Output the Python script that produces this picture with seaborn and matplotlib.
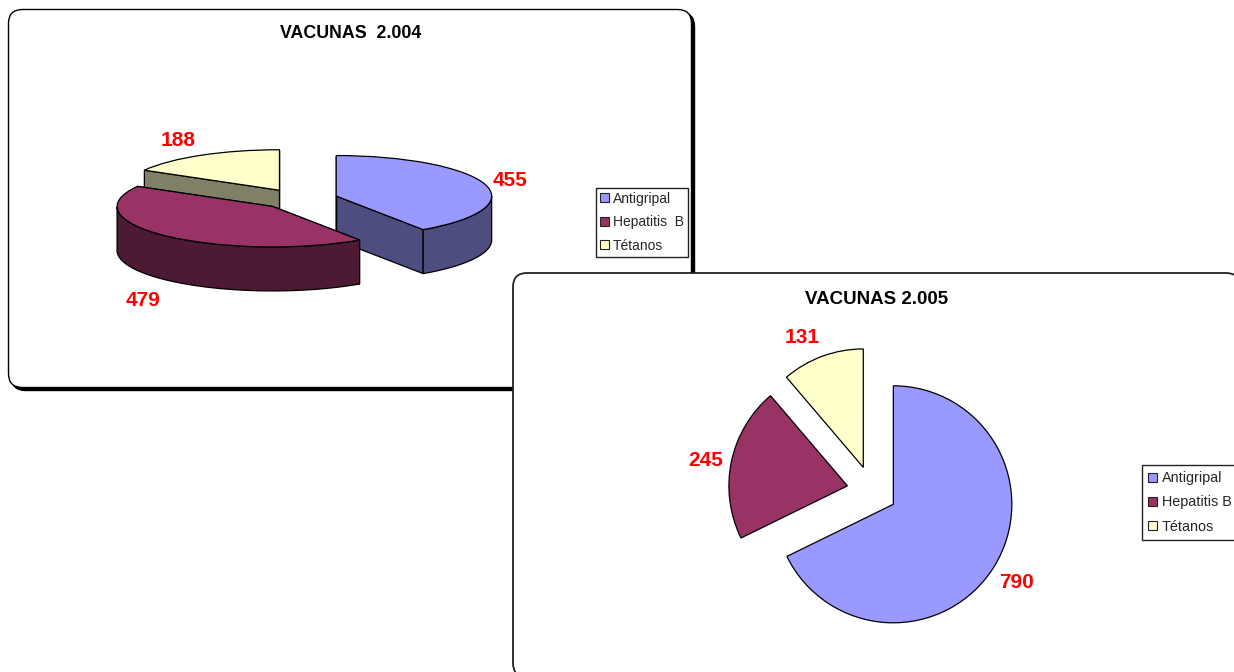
import numpy as np
import matplotlib
matplotlib.use("Agg")
import matplotlib.pyplot as plt
from matplotlib.patches import FancyBboxPatch
import seaborn as sns

categories_2004 = ["Antigripal", "Hepatitis  B", "Tétanos"]
categories_2005 = ["Antigripal", "Hepatitis B", "Tétanos"]
values_2004 = [455, 479, 188]
values_2005 = [790, 245, 131]
title_2004 = "VACUNAS  2.004"
title_2005 = "VACUNAS 2.005"

W, H = 1234, 672
sns.set_theme(style="white")
plt.rcParams["font.family"] = ["Liberation Sans", "DejaVu Sans"]
palette = sns.color_palette(["#9999FF", "#993366", "#FFFFCC"])
wall_palette = sns.color_palette(["#4D4D80", "#4D1A33", "#808066"])

fig = plt.figure(figsize=(W / 100, H / 100), dpi=100, facecolor="white")


def pixel_axes(z):
    ax = fig.add_axes([0, 0, 1, 1], zorder=z)
    ax.set_xlim(0, W)
    ax.set_ylim(H, 0)
    ax.axis("off")
    return ax


def panel(ax, x0, y0, x1, y1, lw, ec="black", shadow=0):
    if shadow:
        ax.add_patch(FancyBboxPatch((x0 + shadow, y0 + shadow), x1 - x0, y1 - y0,
                                    boxstyle="round,pad=0,rounding_size=14",
                                    fc="black", ec="black", lw=lw))
    ax.add_patch(FancyBboxPatch((x0, y0), x1 - x0, y1 - y0,
                                boxstyle="round,pad=0,rounding_size=14",
                                fc="white", ec=ec, lw=lw))


def pie_axes(z, cx, cy, a, b):
    span = 3.0
    ax = fig.add_axes([(cx - span * a) / W, 1 - (cy + span * b) / H,
                       2 * span * a / W, 2 * span * b / H], zorder=z)
    ax.axis("off")
    return ax, span


def finish_pie(ax, span):
    ax.set_aspect("auto")
    ax.set_xlim(-span, span)
    ax.set_ylim(-span, span)


def add_legend(ax, wedges, labels, x, y, fs, spacing, pad, hsize, tpad):
    leg = ax.legend(wedges, labels, loc="upper left",
                    bbox_to_anchor=(x / W, 1 - y / H),
                    bbox_transform=fig.transFigure,
                    fontsize=fs, frameon=True, fancybox=False,
                    edgecolor="#222222", framealpha=1, borderpad=pad,
                    handlelength=hsize, handleheight=hsize, handletextpad=tpad,
                    labelspacing=spacing, borderaxespad=0)
    leg.get_frame().set_linewidth(1.0)
    for h in leg.get_patches():
        h.set_edgecolor("#222222")
        h.set_linewidth(0.8)
    return leg


# ---- 2004 panel
back = pixel_axes(0)
panel(back, 8.5, 9.5, 691.5, 387.5, 1.0, shadow=3)
back.text(350.5, 33.5, title_2004, ha="center", va="center", fontsize=12.8, fontweight="bold", color="black")
for txt, x, y in [("455", 510, 180.5), ("479", 143.5, 300), ("188", 178, 141)]:
    back.text(x, y, txt, ha="center", va="center", fontsize=15, fontweight="bold", color="#FF0000")

ax1, span1 = pie_axes(1, 299, 199, 155.5, 40.5)
wedges1, _ = ax1.pie(values_2004, explode=[0.25] * 3, colors=palette, startangle=90,
                     counterclock=False, radius=1,
                     wedgeprops=dict(edgecolor="black", linewidth=0.9))
finish_pie(ax1, span1)
drop = 44 / 40.5
# painter's order: back to front
for order, i in enumerate([2, 0, 1]):
    w = wedges1[i]
    cx, cy = w.center
    t1, t2 = w.theta1 % 360, w.theta2 % 360
    if t2 <= t1:
        t2 += 360
    z = 2 * order + 1
    for t in (t1, t2):
        px = cx + np.cos(np.radians(t))
        py = cy + np.sin(np.radians(t))
        ax1.fill([cx, px, px, cx], [cy, py, py - drop, cy - drop],
                 fc=wall_palette[i], ec="black", lw=0.9, zorder=z)
    ts = np.linspace(t1, t2, 240)
    ts = ts[np.sin(np.radians(ts)) <= 0]
    if len(ts):
        xs = cx + np.cos(np.radians(ts))
        ys = cy + np.sin(np.radians(ts))
        ax1.fill(np.r_[xs, xs[::-1]], np.r_[ys, ys[::-1] - drop],
                 fc=wall_palette[i], ec="black", lw=0.9, zorder=z)
    w.set_zorder(z + 1)
add_legend(ax1, wedges1, categories_2004, 596, 187.5, 10, 0.68, 0.3, 0.62, 0.3)

# ---- 2005 panel
front = pixel_axes(2)
panel(front, 513, 273, 1240, 677, 1.3, ec="#222222")
front.text(877, 299.5, title_2005, ha="center", va="center", fontsize=13.5, fontweight="bold", color="black")
for txt, x, y in [("790", 1017, 583), ("245", 706, 460), ("131", 802, 337.5)]:
    front.text(x, y, txt, ha="center", va="center", fontsize=15, fontweight="bold", color="#FF0000")

ax2, span2 = pie_axes(3, 872, 491, 118.5, 118.5)
wedges2, _ = ax2.pie(values_2005, explode=[0.212] * 3, colors=palette, startangle=90,
                     counterclock=False, radius=1,
                     wedgeprops=dict(edgecolor="black", linewidth=0.9))
finish_pie(ax2, span2)
add_legend(ax2, wedges2, categories_2005, 1142, 465, 10.4, 0.71, 0.43, 0.6, 0.35)

fig.savefig("out.png", dpi=100)
